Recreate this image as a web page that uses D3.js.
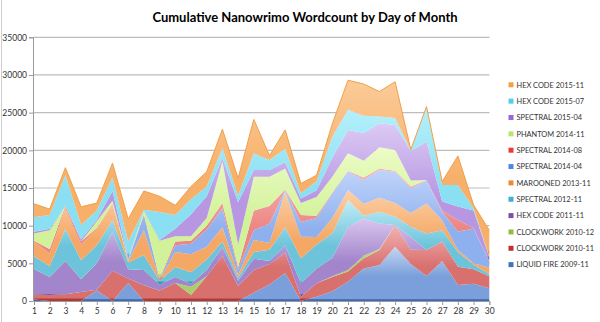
<!DOCTYPE html>
<html>
<head>
<meta charset="utf-8">
<script src="https://cdn.jsdelivr.net/npm/d3@7"></script>
<style>
  html, body { margin: 0; padding: 0; background: #fff; }
  svg { display: block; font-family: Lato, "Liberation Sans", sans-serif; }
</style>
</head>
<body>
<svg id="chart" width="600" height="322"></svg>
<script>
// Days of the month (x categories)
const days = d3.range(1, 31);

// Daily word counts per project, stacked bottom to top
const liquidFire200911 = [200,0,0,0,1400,0,2400,0,0,0,0,0,0,0,1100,2200,3700,0,570,1300,2560,4330,4770,7210,4900,3320,5300,2120,2300,1700];
const clockwork201011  = [650,800,900,1200,100,4000,600,2100,1400,2400,800,3300,6000,2000,3000,2700,2700,570,1770,1900,1340,1330,1990,2880,1900,3440,2600,2430,1900,1600];
const clockwork201012  = [0,0,0,0,0,0,0,0,0,0,1100,0,0,0,0,0,0,0,0,100,200,340,140,0,0,0,0,0,0,0];
const hexCode201111    = [3400,2400,4400,1700,3500,5200,1200,2000,800,800,400,800,1200,700,1500,400,1000,1770,1960,2400,5760,4960,3400,0,1730,0,0,0,0,0];
const spectral201211   = [1700,1400,4300,2500,2400,1600,900,2000,500,1300,1500,1400,700,400,900,1500,2400,3320,3200,3300,3540,340,1550,1110,1340,2210,1500,1950,600,300];
const marooned201311   = [1950,1700,2700,2100,2200,2000,200,3300,100,2000,2400,1700,1900,400,1600,900,4700,2880,1000,2000,1340,1600,1850,1800,1820,3980,1300,270,200,800];
const spectral201404   = [0,0,0,0,0,0,50,2000,100,900,1400,2300,2500,700,1300,2600,200,1960,2500,3300,2460,3200,3700,4170,3310,3050,1100,2440,4600,800];
const spectral201408   = [100,600,300,400,100,100,50,100,100,500,400,500,700,300,2600,2300,100,900,300,100,100,300,200,130,200,70,200,1550,50,100];
const phantom201411    = [950,2500,0,0,900,400,100,450,5000,700,600,1000,5500,3000,4500,3900,2800,1600,2500,2100,2300,2200,2800,2750,800,0,0,0,0,0];
const spectral201504   = [250,200,0,300,200,1300,100,50,100,1000,2900,2900,500,5600,900,900,800,600,900,2500,3100,3700,3200,3320,3900,5080,1200,1770,2350,500];
const hexCode201507    = [1900,1800,4100,1900,1200,1800,2300,100,3700,1800,2000,1300,1300,900,2200,1300,1800,700,1200,2800,2700,2300,900,930,100,4650,2200,2870,300,100];
const hexCode201511    = [1800,800,1000,2400,1000,1900,3000,2500,2100,1300,1700,1950,2500,2300,4500,600,2500,1300,800,1700,3900,4200,3300,4800,100,0,450,3860,450,3500];

// Series names, in stacking order (bottom first)
const seriesNames = [
  "LIQUID FIRE 2009-11", "CLOCKWORK 2010-11", "CLOCKWORK 2010-12", "HEX CODE 2011-11",
  "SPECTRAL 2012-11", "MAROONED 2013-11", "SPECTRAL 2014-04", "SPECTRAL 2014-08",
  "PHANTOM 2014-11", "SPECTRAL 2015-04", "HEX CODE 2015-07", "HEX CODE 2015-11"
];
const seriesValues = [
  liquidFire200911, clockwork201011, clockwork201012, hexCode201111,
  spectral201211, marooned201311, spectral201404, spectral201408,
  phantom201411, spectral201504, hexCode201507, hexCode201511
];

// Value axis ticks
const yTicks = [0, 5000, 10000, 15000, 20000, 25000, 30000, 35000];

// Fill gradients (light top, mid, dark bottom) and legend swatch colours
const fills = [
  ["#c4d6f2", "#7b9fdb", "#3a6bb5"],
  ["#f2b3b2", "#d8706e", "#b33836"],
  ["#d5ecaa", "#aacf6c", "#7fa83f"],
  ["#d9c6ee", "#a385cc", "#6c4f9a"],
  ["#c2ecf6", "#6cc3da", "#2e98b5"],
  ["#fcd0a6", "#f5a866", "#e57f2a"],
  ["#c0d4fa", "#8fb0ee", "#5a86dc"],
  ["#f7b4b0", "#ec8684", "#d8504e"],
  ["#ecfcc6", "#d2f29a", "#aad862"],
  ["#dccaf4", "#b797e2", "#8a62c4"],
  ["#b6f0fc", "#8adff2", "#40bcdc"],
  ["#fbcb98", "#f7b06a", "#ee8c2a"]
];
const swatches = ["#3f73c0","#c03030","#8fbf3f","#7a50a8","#40b0d0","#f08a30",
                  "#4f86e8","#e83a3a","#b5e86a","#9a66d8","#50cfee","#f5a040"];

const svg = d3.select("#chart");
const x = d3.scalePoint().domain(days).range([34, 489.3]);
const y = d3.scaleLinear().domain([0, 35000]).range([301, 37.3]);

// Table of rows for d3.stack
const rows = days.map((d, i) => {
  const r = { day: d };
  seriesNames.forEach((n, k) => { r[n] = seriesValues[k][i]; });
  return r;
});
const stacked = d3.stack().keys(seriesNames)(rows);

// Chart frame edge
svg.append("line").attr("x1", 1.5).attr("x2", 1.5).attr("y1", 0).attr("y2", 322)
  .attr("stroke", "#cfcfcf").attr("stroke-width", 1);

// Gridlines
svg.append("g").selectAll("line").data(yTicks.filter(t => t > 0)).join("line")
  .attr("x1", 33).attr("x2", 489.5)
  .attr("y1", d => y(d)).attr("y2", d => y(d))
  .attr("stroke", "#bdbdbd").attr("stroke-width", 1.2);

// Gradients
const defs = svg.append("defs");
fills.forEach((f, i) => {
  const g = defs.append("linearGradient").attr("id", "fill" + i)
    .attr("x1", 0).attr("y1", 0).attr("x2", 0).attr("y2", 1);
  g.append("stop").attr("offset", "0%").attr("stop-color", f[0]);
  g.append("stop").attr("offset", "55%").attr("stop-color", f[1]);
  g.append("stop").attr("offset", "96%").attr("stop-color", f[1]);
  g.append("stop").attr("offset", "97.5%").attr("stop-color", f[2]);
  g.append("stop").attr("offset", "100%").attr("stop-color", f[2]);
});

// Stacked areas
const area = d3.area()
  .x(d => x(d.data.day))
  .y0(d => y(d[0]))
  .y1(d => y(d[1]));
svg.append("g").selectAll("path").data(stacked).join("path")
  .attr("d", area)
  .attr("fill", (d, i) => `url(#fill${i})`);

// Outline along the top of the stack
svg.append("path")
  .datum(stacked[stacked.length - 1])
  .attr("d", d3.line().x(d => x(d.data.day)).y(d => y(d[1])))
  .attr("fill", "none").attr("stroke", "#f0a048").attr("stroke-width", 1);

// Axes
const yAxis = d3.axisLeft(y).tickValues(yTicks).tickSize(4).tickFormat(d3.format("d"));
const yG = svg.append("g").attr("transform", "translate(33,0)").call(yAxis);
const xAxis = d3.axisBottom(x).tickSize(4);
const xG = svg.append("g").attr("transform", "translate(0,301)").call(xAxis);
[yG, xG].forEach(g => {
  g.select(".domain").attr("stroke", "#9a9a9a");
  g.selectAll(".tick line").attr("stroke", "#9a9a9a");
  g.selectAll("text").attr("fill", "#333").attr("font-size", 8.5)
    .attr("font-family", "Lato, 'Liberation Sans', sans-serif");
});
yG.selectAll("text").attr("x", -6);
xG.selectAll("text").attr("y", 7);

// Title
svg.append("text").attr("x", 305).attr("y", 22).attr("text-anchor", "middle")
  .attr("font-size", 13).attr("font-weight", "bold").attr("fill", "#000")
  .text("Cumulative Nanowrimo Wordcount by Day of Month");

// Legend (top entry is the top series)
const legend = svg.append("g");
const order = d3.range(seriesNames.length).reverse();
order.forEach((k, j) => {
  const cy = 84.8 + j * 16.35;
  legend.append("rect").attr("x", 508.5).attr("y", cy - 2.5).attr("width", 5).attr("height", 5)
    .attr("fill", swatches[k]);
  legend.append("text").attr("x", 516.5).attr("y", cy + 2.8).attr("font-size", 7.4)
    .attr("fill", "#333").text(seriesNames[k]);
});
</script>
</body>
</html>
